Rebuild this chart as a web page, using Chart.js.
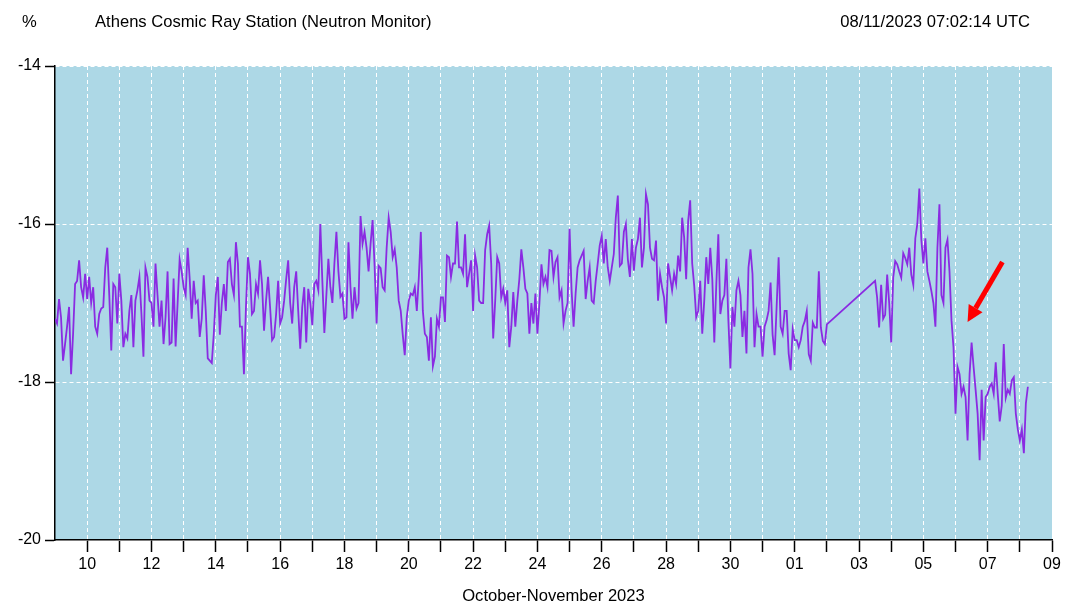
<!DOCTYPE html>
<html>
<head>
<meta charset="utf-8">
<title>Athens Cosmic Ray Station</title>
<script src="https://cdn.jsdelivr.net/npm/chart.js@4/dist/chart.umd.min.js"></script>
<style>
  body { margin: 0; background: #fff; }
  #wrap { position: relative; width: 1066px; height: 604px; font-family: "Liberation Sans", Arial, sans-serif; color: #000; }
  .head { position: absolute; top: 12px; font-size: 16.6px; line-height: 20px; white-space: nowrap; }
</style>
</head>
<body>
<div id="wrap">
  <canvas id="myChart" width="1066" height="604"></canvas>
  <div class="head" style="left:22px">%</div>
  <div class="head" style="left:95px">Athens Cosmic Ray Station (Neutron Monitor)</div>
  <div class="head" style="right:36px">08/11/2023 07:02:14 UTC</div>
</div>
<script>
// hours counted from 09 Oct 2023 00:00 UTC, one value every 1.5 hours
let stepHours = 1.5;
let seg1Start = 0;
let seg1Values = [
  -17.2, -17.26, -16.95, -17.18, -17.73, -17.52, -17.3, -17.05,
  -17.9, -17.39, -16.76, -16.72, -16.46, -16.8, -16.93, -16.63,
  -16.95, -16.67, -17.0, -16.8, -17.3, -17.39, -17.14, -17.07,
  -17.05, -16.55, -16.3, -16.9, -17.6, -16.76, -16.8, -17.26,
  -16.63, -16.97, -17.56, -17.39, -17.45, -17.1, -16.9, -17.56,
  -16.97, -16.84, -16.67, -17.14, -17.68, -16.55, -16.67, -16.97,
  -17.0, -17.3, -16.5, -16.9, -17.3, -16.97, -17.52, -17.18,
  -16.6, -17.52, -17.5, -16.69, -17.55, -17.0, -16.45, -16.6,
  -16.8, -16.9, -16.3, -16.69, -17.2, -16.72, -17.0, -16.97,
  -17.43, -17.2, -16.65, -17.1, -17.7, -17.73, -17.76, -17.39,
  -16.9, -16.67, -17.4, -17.0, -16.76, -17.1, -16.48, -16.44,
  -16.76, -16.9, -16.23, -16.5, -17.3, -17.3, -17.9, -17.05,
  -16.42, -16.63, -17.14, -17.1, -16.76, -16.88, -16.46, -16.76,
  -17.35, -16.97, -16.67, -17.05, -17.47, -17.43, -17.14, -16.72,
  -17.26, -17.18, -16.97, -16.7, -16.46, -17.0, -17.26, -16.8,
  -16.6, -17.1, -17.58, -17.05, -16.8, -17.5,
  -16.82, -17.0, -17.28, -16.76, -16.72, -16.84, -16.0, -16.72,
  -17.38, -16.9, -16.44, -16.8, -17.0, -16.5, -16.1, -16.6,
  -16.92, -16.88, -17.2, -17.18, -16.23, -16.8, -17.2, -16.8,
  -17.07, -17.0, -15.9, -16.25, -16.1, -16.3, -16.6, -16.25,
  -15.95, -16.53, -17.26, -16.53, -16.56, -16.8, -16.84, -16.3,
  -15.92, -16.1, -16.42, -16.32, -16.55, -16.97, -17.1, -17.4,
  -17.66, -17.18, -16.97, -16.88, -16.9, -16.8, -17.1, -16.67,
  -16.1, -17.1, -17.39, -17.43, -17.73, -17.18,
  -17.8, -17.68, -17.2, -17.3, -16.93, -16.93, -17.24, -16.4,
  -16.42, -16.67, -16.5, -16.5, -15.97, -16.55, -16.55, -16.63,
  -16.13, -16.8, -16.63, -16.46, -17.1, -16.4, -16.55, -16.97,
  -17.0, -17.0, -16.33, -16.13, -16.02, -16.5, -17.45, -16.97,
  -16.42, -16.5, -16.93, -16.82, -17.0, -16.84, -17.56, -17.3,
  -16.86, -17.3, -16.97, -16.7, -16.32, -16.55, -16.82, -16.88,
  -17.39, -17.0, -17.26, -16.88, -17.39, -17.0, -16.51, -16.76,
  -16.67, -16.8, -16.33, -16.34, -16.67, -16.48,
  -16.42, -16.93, -16.84, -17.26, -17.1, -17.0, -16.06, -16.84,
  -17.3, -16.88, -16.55, -16.46, -16.4, -16.34, -16.95, -16.72,
  -16.55, -16.97, -17.0, -16.72, -16.5, -16.27, -16.15, -16.5,
  -16.19, -16.55, -16.72, -16.55, -16.38, -15.92, -15.64, -16.53,
  -16.5, -16.1, -16.0, -16.45, -16.67, -16.19, -16.59, -16.3,
  -16.19, -15.92, -16.55, -16.3, -15.62, -15.75, -16.3, -16.44,
  -16.46, -16.21, -16.97, -16.63, -16.8, -16.93, -17.26, -16.5,
  -16.67, -16.84, -16.63, -16.76, -16.4, -16.6,
  -15.92, -16.17, -16.7, -15.96, -15.7, -16.5, -16.78, -17.18,
  -17.1, -16.72, -17.39, -16.97, -16.42, -16.76, -16.3, -16.7,
  -17.5, -16.76, -16.13, -17.14, -16.97, -16.9, -16.44, -17.22,
  -17.83, -17.05, -17.3, -16.84, -16.72, -16.9, -17.43, -17.1,
  -17.64, -16.55, -16.32, -16.63, -17.56, -17.14, -17.3, -17.3,
  -17.68, -17.3, -17.22, -17.1, -16.74, -17.4, -17.66, -17.05,
  -16.42, -17.3, -17.39, -17.1, -17.1, -17.64, -17.85, -17.33,
  -17.47, -17.47, -17.56, -17.47, -17.3, -17.23,
  -17.1, -17.65, -17.73, -17.25, -17.31, -17.31, -16.6, -17.31,
  -17.48, -17.52, -17.27
];
let seg2Start = 612;
let seg2Values = [
  -16.72, -16.93, -17.31, -16.77, -17.2, -17.15, -16.64, -17.0,
  -17.5, -16.68, -16.47, -16.51, -16.6, -16.68, -16.37, -16.43,
  -16.51, -16.3, -16.64, -16.77, -16.18, -16.0, -15.55, -16.2,
  -16.5, -16.18, -16.6, -16.72, -16.85, -17.0, -17.3, -16.3,
  -15.75, -16.9, -17.0, -16.3, -16.2, -16.6, -17.22, -17.56,
  -18.4, -17.81, -17.9, -18.15, -18.06, -18.19, -18.74, -17.9,
  -17.5, -17.81, -18.1, -18.4, -18.99, -18.1, -18.74, -18.19,
  -18.15, -18.06, -18.02, -18.15, -17.75, -18.15, -18.5, -18.3,
  -17.52, -18.2, -18.1, -18.15, -17.98, -17.94, -18.4, -18.6,
  -18.74, -18.6, -18.9, -18.27, -18.06
];

let dayLabels = ['09', '10', '11', '12', '13', '14', '15', '16', '17', '18', '19', '20',
  '21', '22', '23', '24', '25', '26', '27', '28', '29', '30', '31',
  '01', '02', '03', '04', '05', '06', '07', '08', '09'];
let yTicks = [-20, -18, -16, -14];

// red arrow in chart units (hours, %)
let arrowFrom = { x: 707, y: -16.48 };
let arrowTo = { x: 681, y: -17.24 };

function buildPoints() {
  let pts = [];
  seg1Values.forEach(function (v, i) { pts.push({ x: seg1Start + i * stepHours, y: v }); });
  seg2Values.forEach(function (v, i) { pts.push({ x: seg2Start + i * stepHours, y: v }); });
  return pts;
}

const plotBackground = {
  id: 'plotBackground',
  beforeDraw(chart) {
    let a = chart.chartArea;
    let ctx = chart.ctx;
    ctx.save();
    ctx.fillStyle = '#add8e6';
    ctx.fillRect(a.left, a.top, a.right - a.left, a.bottom - a.top);
    ctx.restore();
  }
};

const redArrow = {
  id: 'redArrow',
  afterDatasetsDraw(chart) {
    let ctx = chart.ctx;
    let sx = chart.scales.x, sy = chart.scales.y;
    let x1 = sx.getPixelForValue(arrowFrom.x), y1 = sy.getPixelForValue(arrowFrom.y);
    let x2 = sx.getPixelForValue(arrowTo.x), y2 = sy.getPixelForValue(arrowTo.y);
    let ang = Math.atan2(y2 - y1, x2 - x1);
    let headLen = 16, headW = 8;
    let bx = x2 - headLen * Math.cos(ang), by = y2 - headLen * Math.sin(ang);
    ctx.save();
    ctx.strokeStyle = '#ff0000';
    ctx.fillStyle = '#ff0000';
    ctx.lineWidth = 5;
    ctx.beginPath();
    ctx.moveTo(x1, y1);
    ctx.lineTo(bx, by);
    ctx.stroke();
    ctx.beginPath();
    ctx.moveTo(x2, y2);
    ctx.lineTo(bx + headW * Math.sin(ang), by - headW * Math.cos(ang));
    ctx.lineTo(bx - headW * Math.sin(ang), by + headW * Math.cos(ang));
    ctx.closePath();
    ctx.fill();
    ctx.restore();
  }
};

window.onload = function () {
  let ctx = document.getElementById('myChart').getContext('2d');

  window.myChart = new Chart(ctx, {
    type: 'line',
    data: {
      datasets: [{
        label: 'Athens NM',
        data: buildPoints(),
        borderColor: '#8a2be2',
        borderWidth: 1.8,
        pointRadius: 0,
        tension: 0,
        fill: false
      }]
    },
    options: {
      responsive: false,
      animation: false,
      devicePixelRatio: 1,
      layout: { padding: { top: 66, right: 14, left: 0, bottom: 0 } },
      plugins: {
        legend: { display: false },
        tooltip: { enabled: false }
      },
      scales: {
        x: {
          type: 'linear',
          min: 0,
          max: (dayLabels.length - 1) * 24,
          afterBuildTicks: function (scale) {
            scale.ticks = dayLabels.map(function (d, i) { return { value: i * 24 }; }).filter(function (t) { return t.value > 0; });
          },
          afterFit: function (scale) { scale.height = 64; },
          ticks: {
            autoSkip: false,
            maxRotation: 0,
            padding: 3,
            color: '#000',
            font: { family: 'Liberation Sans', size: 16 },
            callback: function (value) {
              let d = Math.round(value / 24);
              return d % 2 === 1 ? dayLabels[d] : '';
            }
          },
          grid: { color: '#ffffff', lineWidth: 1, tickColor: '#000', tickLength: 12, tickWidth: 1.5, tickBorderDash: [] },
          border: { color: '#000', width: 1.5, dash: [4, 3] },
          title: {
            display: true,
            text: 'October-November 2023',
            color: '#000',
            font: { family: 'Liberation Sans', size: 16.6 },
            padding: { top: 0, bottom: -2 }
          }
        },
        y: {
          min: -20,
          max: -14,
          afterBuildTicks: function (scale) {
            scale.ticks = yTicks.map(function (v) { return { value: v }; });
          },
          afterFit: function (scale) { scale.width = 55; },
          ticks: {
            padding: 4,
            color: '#000',
            font: { family: 'Liberation Sans', size: 16 }
          },
          grid: { color: '#ffffff', lineWidth: 1, tickColor: '#000', tickLength: 10, tickWidth: 1.5, tickBorderDash: [] },
          border: { color: '#000', width: 1.5, dash: [4, 3] }
        }
      }
    },
    plugins: [plotBackground, redArrow]
  });
};
</script>
</body>
</html>
